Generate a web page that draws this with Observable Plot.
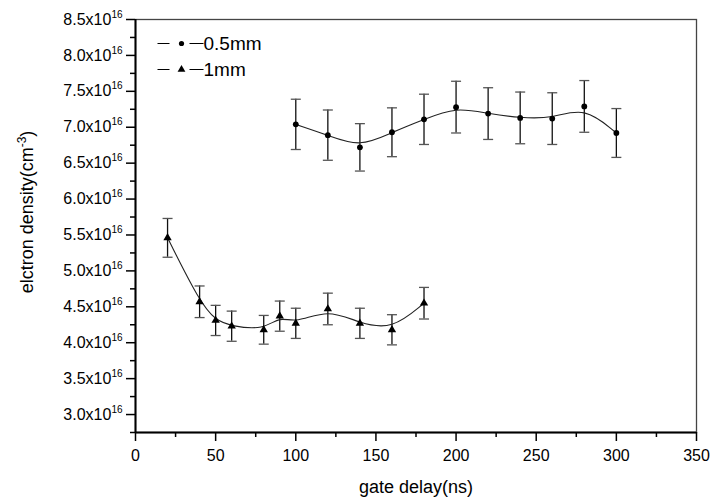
<!DOCTYPE html>
<html><head><meta charset="utf-8">
<script src="https://cdn.jsdelivr.net/npm/d3@7"></script>
<script src="https://cdn.jsdelivr.net/npm/@observablehq/plot@0.6"></script>
<style>
body{margin:0;background:#fff;}
svg{font-family:"Liberation Sans",Arial,sans-serif;}
</style>
</head><body><div id="chart"></div>
<script>
// ---- data (electron density in units of 1e16 cm^-3) ----
const seriesNames = ["0.5mm", "1mm"];
const delay05 = [100, 120, 140, 160, 180, 200, 220, 240, 260, 280, 300];
const density05 = [7.04, 6.89, 6.72, 6.93, 7.11, 7.28, 7.19, 7.13, 7.12, 7.29, 6.92];
const error05 = [0.35, 0.35, 0.33, 0.34, 0.35, 0.36, 0.36, 0.36, 0.36, 0.36, 0.34];
const delay1 = [20, 40, 50, 60, 80, 90, 100, 120, 140, 160, 180];
const density1 = [5.46, 4.57, 4.31, 4.23, 4.18, 4.37, 4.27, 4.47, 4.27, 4.18, 4.55];
const error1 = [0.27, 0.22, 0.21, 0.21, 0.20, 0.21, 0.21, 0.22, 0.21, 0.21, 0.22];
const xTicks = [0, 50, 100, 150, 200, 250, 300, 350];
const xMinor = [25, 75, 125, 175, 225, 275, 325];
const yTicks = [3.0, 3.5, 4.0, 4.5, 5.0, 5.5, 6.0, 6.5, 7.0, 7.5, 8.0, 8.5];
const yMinor = [2.75, 3.25, 3.75, 4.25, 4.75, 5.25, 5.75, 6.25, 6.75, 7.25, 7.75, 8.25];
const xDomain = [0, 350];
const yDomain = [2.75, 8.5];
const yExponent = "16";
const xLabel = "gate delay(ns)";
const yLabel = "elctron density(cm";
const yLabelSup = "-3";

const rows = (xs, ys, es) => xs.map((x, i) => ({x, y: ys[i], e: es[i]}));
const data05 = rows(delay05, density05, error05);
const data1 = rows(delay1, density1, error1);

const cap = {draw(ctx) { ctx.moveTo(-5, 0); ctx.lineTo(5, 0); }};
const legendLine = {draw(ctx) { ctx.moveTo(-24, 0); ctx.lineTo(-12, 0); ctx.moveTo(8, 0); ctx.lineTo(22, 0); }};

function seriesMarks(data, symbol, r) {
  return [
    Plot.ruleX(data, {x: "x", y1: d => d.y - d.e, y2: d => d.y + d.e, stroke: "#111", strokeWidth: 1.3}),
    Plot.dot(data, {x: "x", y: d => d.y + d.e, symbol: cap, fill: "none", stroke: "#555", strokeWidth: 1.3}),
    Plot.dot(data, {x: "x", y: d => d.y - d.e, symbol: cap, fill: "none", stroke: "#555", strokeWidth: 1.3}),
    Plot.line(data, {x: "x", y: "y", curve: "basis", stroke: "#222", strokeWidth: 1.1}),
    Plot.dot(data, {x: "x", y: "y", symbol, r, fill: "#000", stroke: "none"})
  ];
}

function legendMarks(name, symbol, r, dy) {
  return [
    Plot.dot([name], {frameAnchor: "top-left", dx: 46, dy, symbol: legendLine, fill: "none", stroke: "#000", strokeWidth: 1.2}),
    Plot.dot([name], {frameAnchor: "top-left", dx: 46, dy, symbol, r, fill: "#000", stroke: "none"}),
    Plot.text([name], {frameAnchor: "top-left", text: d => d, dx: 68, dy, textAnchor: "start", lineAnchor: "middle", fontSize: 19, fill: "#000"})
  ];
}

const chart = Plot.plot({
  width: 710,
  height: 499,
  marginLeft: 135,
  marginRight: 14,
  marginTop: 19,
  marginBottom: 67,
  x: {domain: xDomain},
  y: {domain: yDomain},
  style: {background: "#fff", color: "#000", fontFamily: "'Liberation Sans', Arial, sans-serif"},
  marks: [
    Plot.frame({stroke: "#444", strokeWidth: 1.3}),
    Plot.axisY(yTicks, {tickSize: 9, tickPadding: 4, fontSize: 16, strokeWidth: 1.5, tickFormat: d => d.toFixed(1) + "x10", label: null}),
    Plot.axisY(yMinor, {tickSize: 5, strokeWidth: 1.5, tickFormat: () => "", label: null}),
    Plot.axisX(xTicks, {tickSize: 9, tickPadding: 8, fontSize: 16, strokeWidth: 1.5, tickFormat: d => String(d), label: null}),
    Plot.axisX(xMinor, {tickSize: 5, strokeWidth: 1.5, tickFormat: () => "", label: null}),
    Plot.ruleX([xDomain[0]], {stroke: "#000", strokeWidth: 2}),
    Plot.ruleY([yDomain[0]], {stroke: "#000", strokeWidth: 2}),
    ...seriesMarks(data05, "circle", 2.9),
    ...seriesMarks(data1, "triangle", 3.1),
    ...legendMarks(seriesNames[0], "circle", 2.6, 24),
    ...legendMarks(seriesNames[1], "triangle", 2.9, 50),
    Plot.text([xLabel], {frameAnchor: "bottom", text: d => d, dy: 60, fontSize: 18, fill: "#000"}),
    Plot.text([yLabel], {frameAnchor: "left", text: d => d, dx: -108, dy: -14, rotate: -90, textAnchor: "middle", fontSize: 18, fill: "#000"})
  ]
});

document.getElementById("chart").appendChild(chart);

// superscripts as real text
d3.select(chart).selectAll('g[aria-label="y-axis tick label"] text').each(function () {
  if (!this.textContent) return;
  d3.select(this).append("tspan").attr("dy", -7).attr("font-size", 10).text(yExponent);
});
d3.select(chart).selectAll("text").filter(function () { return this.textContent === yLabel; }).each(function () {
  const t = d3.select(this);
  t.append("tspan").attr("dy", -7).attr("font-size", 12).text(yLabelSup);
  t.append("tspan").attr("dy", 7).attr("font-size", 18).text(")");
});
</script>
</body></html>
